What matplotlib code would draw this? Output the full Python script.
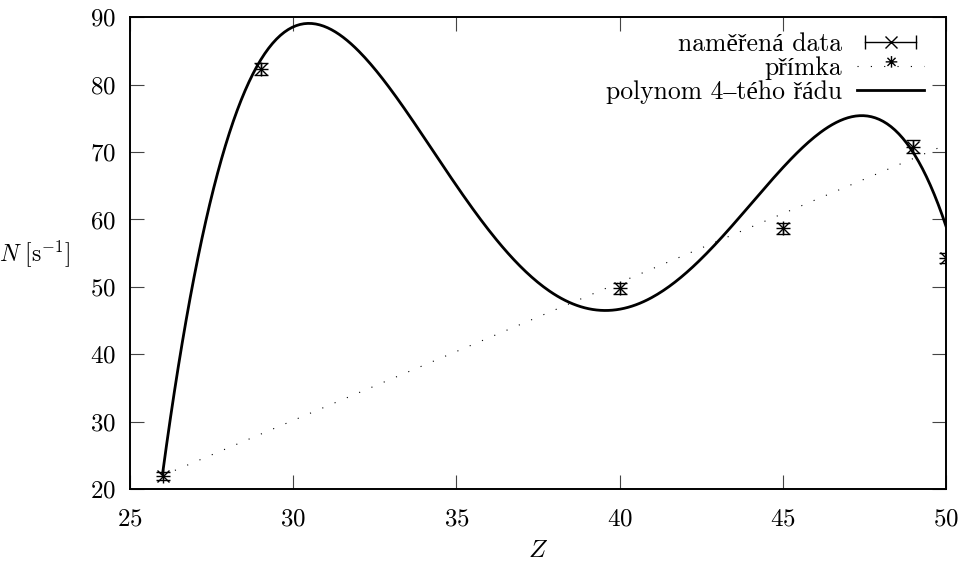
import numpy as np
import matplotlib
matplotlib.use("Agg")
import matplotlib.pyplot as plt
from matplotlib.lines import Line2D
from matplotlib.path import Path
from matplotlib.legend_handler import HandlerTuple, HandlerLine2D

# measured data
z = [26, 29, 40, 45, 49, 50]
n = [22.0, 82.3, 49.8, 58.7, 70.8, 54.3]
n_err = [0.6, 0.9, 0.8, 0.8, 1.0, 0.8]

# straight line (end points)
line_z = [26, 50]
line_n = [22.0, 71.1]

# points
poly_z = [26.0, 30.5, 39.6, 47.5, 50.0]
poly_n = [22.3, 89.1, 46.5, 75.4, 59.0]

plt.rcParams['font.family'] = ['cmr10', 'Liberation Serif']
plt.rcParams['mathtext.fontset'] = 'cm'
plt.rcParams['axes.formatter.use_mathtext'] = True

fig = plt.figure(figsize=(9.67, 5.68), dpi=100)
ax = fig.add_axes([0.1344, 0.139, 0.8439, 0.8305])

coef = np.polyfit(poly_z, poly_n, 4)
zz = np.linspace(26, 50, 400)
ax.plot(zz, np.polyval(coef, zz), color='black', lw=2.0, zorder=3)

ax.plot(line_z, line_n, color='black', lw=0.8, linestyle=(0, (1, 11)), zorder=2)

ax.errorbar(z, n, yerr=n_err, fmt='x', color='black', ms=8, mew=1.0,
            elinewidth=1.0, capsize=5, capthick=1.0, zorder=4)
ax.plot(z, n, linestyle='none', marker='+', color='black', ms=10, mew=1.0, zorder=4)

ax.set_xlim(25, 50)
ax.set_ylim(20, 90)
ax.set_xticks([25, 30, 35, 40, 45, 50])
ax.set_yticks([20, 30, 40, 50, 60, 70, 80, 90])
ax.tick_params(direction='in', length=10, width=0.8, top=True, right=True,
               labelsize=18, pad=10, color='#444444')
ax.tick_params(axis='x', pad=14)
for s in ax.spines.values():
    s.set_linewidth(1.4)

ax.set_xlabel('$Z$', fontsize=18, labelpad=7)
ax.set_ylabel('$N\\ [\\mathrm{s}^{-1}]$', fontsize=17, rotation=0, labelpad=40, va='center')

# legend samples
h_bar = Line2D([], [], color='black', lw=1.0, marker='|', ms=10, mew=1.0)
h_x = Line2D([], [], linestyle='none', marker='x', color='black', ms=9, mew=1.0)
star_path = Path([(-1, 0.8), (1, 0.8), (0, -0.2), (0, 1.8),
                  (-0.7, 0.1), (0.7, 1.5), (-0.7, 1.5), (0.7, 0.1)],
                 [Path.MOVETO, Path.LINETO] * 4)
h_star = Line2D([], [], linestyle='none', marker=star_path, color='black', ms=15, mew=1.0)
h_line = Line2D([], [], color='black', lw=0.8, linestyle=(0, (1, 11)))
h_poly = Line2D([], [], color='black', lw=2.0)

ax.legend([(h_bar, h_x), (h_line, h_star), h_poly],
          ['naměřená data', 'přímka', 'polynom 4–tého řádu'],
          handler_map={tuple: HandlerTuple(ndivide=1, pad=0),
                       h_bar: HandlerLine2D(numpoints=2)},
          loc='upper right', bbox_to_anchor=(0.973, 0.968), frameon=False,
          markerfirst=False, fontsize=18.5, handlelength=2.6, handletextpad=0.6,
          labelspacing=0.0, borderpad=0, borderaxespad=0)

fig.savefig('out.png', dpi=100)
